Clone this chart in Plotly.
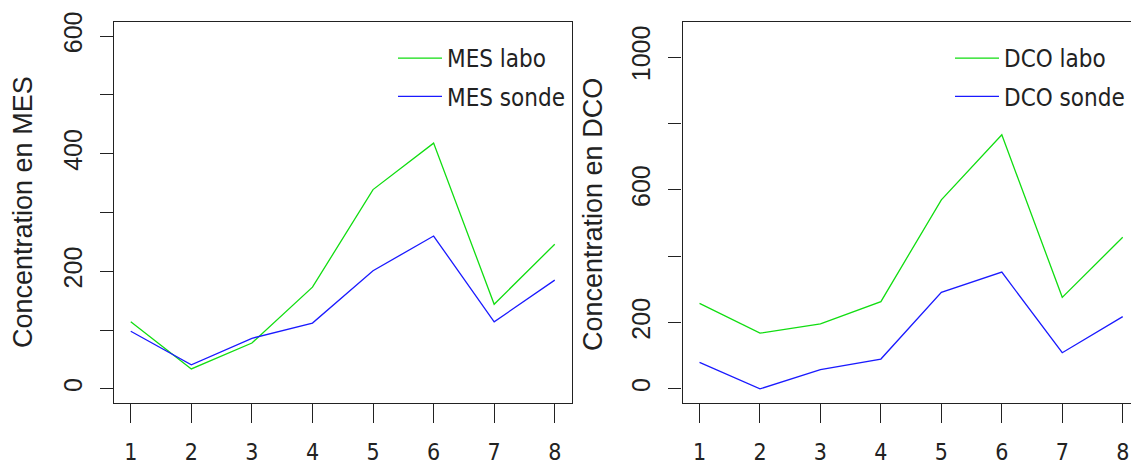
import plotly.graph_objects as go

W, H = 1131, 468

# ---- data ----
x = [1, 2, 3, 4, 5, 6, 7, 8]
mes_labo = [114, 34, 78, 173, 339, 418, 144, 246]
mes_sonde = [98, 41, 86, 112, 201, 260, 114, 185]
dco_labo = [258, 168, 196, 263, 570, 766, 276, 457]
dco_sonde = [80, 0, 58, 90, 291, 352, 109, 218]

mes_tickvals = [0, 100, 200, 300, 400, 500, 600]
mes_ticktext = ["0", "", "200", "", "400", "", "600"]
dco_tickvals = [0, 200, 400, 600, 800, 1000]
dco_ticktext = ["0", "200", "", "600", "", "1000"]

GREEN = "#11dd11"
BLUE = "#1a1aff"
AX = "#222222"
NARROW = "DejaVu Sans Condensed, Liberation Sans Narrow, sans-serif"
REG = "Liberation Sans, Arial, sans-serif"

fig = go.Figure()
fig.add_trace(go.Scatter(x=x, y=mes_labo, mode="lines", name="MES labo",
                         line=dict(color=GREEN, width=1.3), xaxis="x", yaxis="y",
                         legend="legend", legendgroup="a"))
fig.add_trace(go.Scatter(x=x, y=mes_sonde, mode="lines", name="MES sonde",
                         line=dict(color=BLUE, width=1.3), xaxis="x", yaxis="y",
                         legend="legend", legendgroup="b"))
fig.add_trace(go.Scatter(x=x, y=dco_labo, mode="lines", name="DCO labo",
                         line=dict(color=GREEN, width=1.3), xaxis="x2", yaxis="y2",
                         legend="legend2", legendgroup="c"))
fig.add_trace(go.Scatter(x=x, y=dco_sonde, mode="lines", name="DCO sonde",
                         line=dict(color=BLUE, width=1.3), xaxis="x2", yaxis="y2",
                         legend="legend2", legendgroup="d"))

ydom = [65 / H, 446 / H]

def xax(domain, rng, mirror):
    return dict(domain=domain, range=rng, tickvals=x, ticktext=[str(v) for v in x],
                showline=True, linecolor=AX, linewidth=1.3, mirror=mirror,
                ticks="outside", ticklen=19, tickwidth=1.3, tickcolor=AX,
                tickfont=dict(family=NARROW, size=23, color=AX),
                ticklabelstandoff=9, showgrid=False, zeroline=False, automargin=False)

def yax(domain, rng, tv, tt, anchor, mirror):
    return dict(domain=domain, range=rng, tickvals=tv, ticktext=tt, anchor=anchor,
                showline=True, linecolor=AX, linewidth=1.3, mirror=mirror,
                ticks="outside", ticklen=13, tickwidth=1.3, tickcolor=AX,
                tickangle=-90, tickfont=dict(family=REG, size=25, color=AX),
                ticklabelstandoff=8, showgrid=False, zeroline=False, automargin=False)

fig.update_layout(
    width=W, height=H, autosize=False,
    margin=dict(l=0, r=0, t=0, b=0, autoexpand=False),
    paper_bgcolor="white", plot_bgcolor="white",
    xaxis=xax([113.8 / W, 571.7 / W], [0.72, 8.28], True),
    yaxis=yax(ydom, [-24, 624], mes_tickvals, mes_ticktext, "x", True),
    xaxis2=dict(xax([682.6 / W, 1.0], [0.72, 8.137], True), anchor="y2"),
    yaxis2=yax(ydom, [-42.5, 1106], dco_tickvals, dco_ticktext, "x2", False),
    legend=dict(x=393 / W, y=(H - 36) / H, xanchor="left", yanchor="top",
                bgcolor="rgba(0,0,0,0)", font=dict(family=NARROW, size=24, color=AX),
                tracegroupgap=4, itemwidth=44),
    legend2=dict(x=950 / W, y=(H - 36) / H, xanchor="left", yanchor="top",
                 bgcolor="rgba(0,0,0,0)", font=dict(family=NARROW, size=24, color=AX),
                 tracegroupgap=4, itemwidth=44),
    annotations=[
        dict(text="Concentration en MES", x=22.5 / W, y=(H - 212.5) / H, xref="paper",
             yref="paper", textangle=-90, showarrow=False, xanchor="center", yanchor="middle",
             font=dict(family=REG, size=27, color=AX)),
        dict(text="Concentration en DCO", x=593 / W, y=(H - 215) / H, xref="paper",
             yref="paper", textangle=-90, showarrow=False, xanchor="center", yanchor="middle",
             font=dict(family=REG, size=27, color=AX)),
    ],
    showlegend=True,
)

fig.write_html("out.html", config={"responsive": False})
